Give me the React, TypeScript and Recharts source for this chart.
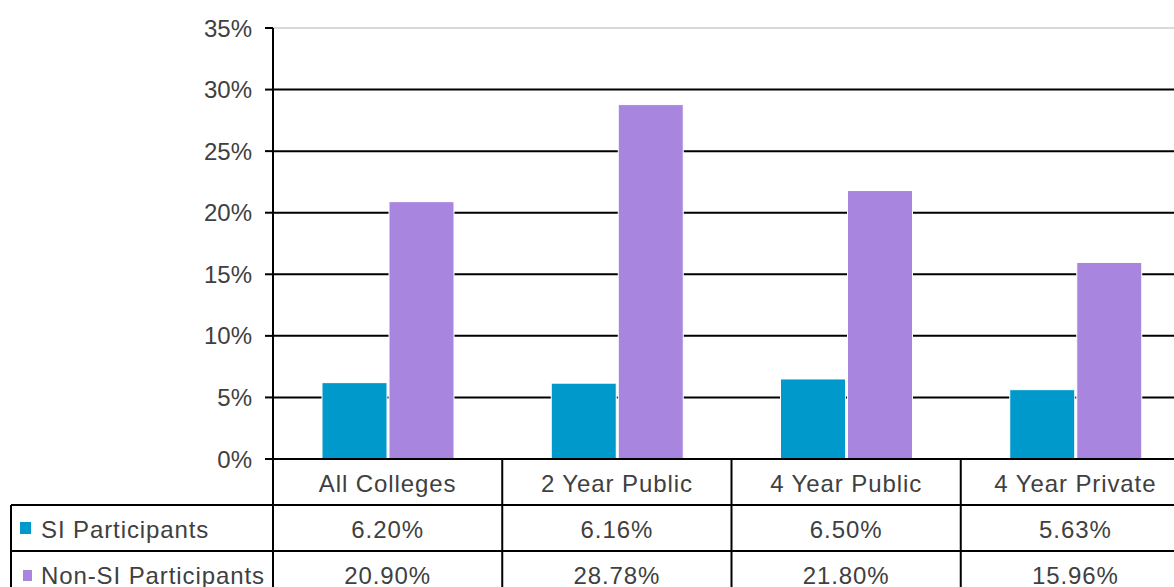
import React from 'react'
import {
  BarChart,
  Bar,
  XAxis,
  YAxis,
  CartesianGrid,
  ReferenceLine,
  Customized,
} from 'recharts'

const categories = ['All Colleges', '2 Year Public', '4 Year Public', '4 Year Private']
const siValues = [6.2, 6.16, 6.5, 5.63]
const nonSiValues = [20.9, 28.78, 21.8, 15.96]
const yTicks = [0, 5, 10, 15, 20, 25, 30, 35]
const seriesNames = ['SI Participants', 'Non-SI Participants']
const seriesColors = ['#0099cc', '#a886e0']

const data = categories.map((name, i) => ({
  name,
  si: siValues[i],
  nonSi: nonSiValues[i],
}))

const W = 1190
const H = 640
const PLOT_LEFT = 273
const PLOT_TOP = 28
const PLOT_BOTTOM = 459
const BAND = (W - PLOT_LEFT) / categories.length
const ROW1 = 505
const ROW2 = 551
const FONT = '"Liberation Sans", Arial, sans-serif'
const TEXT = '#404040'

// table text looks a touch wider than plain Arial
const cellText = {
  fill: TEXT,
  fontSize: 24,
  fontFamily: FONT,
  letterSpacing: 0.9,
}

function TableTick(props: any) {
  const { x, payload } = props
  const i = payload.index
  const right = x + BAND / 2
  return (
    <g>
      <text x={x} y={(PLOT_BOTTOM + ROW1) / 2 + 1} textAnchor="middle" dominantBaseline="central" {...cellText}>
        {payload.value}
      </text>
      <text x={x} y={(ROW1 + ROW2) / 2 + 1} textAnchor="middle" dominantBaseline="central" {...cellText}>
        {siValues[i].toFixed(2)}%
      </text>
      <text x={x} y={ROW2 + 24} textAnchor="middle" dominantBaseline="central" {...cellText}>
        {nonSiValues[i].toFixed(2)}%
      </text>
      <line x1={right} x2={right} y1={PLOT_BOTTOM} y2={H} stroke="#000" strokeWidth={2} />
    </g>
  )
}

function TableFrame() {
  return (
    <g>
      <line x1={PLOT_LEFT} x2={PLOT_LEFT} y1={PLOT_BOTTOM} y2={H} stroke="#000" strokeWidth={2} />
      <line x1={11} x2={W} y1={ROW1} y2={ROW1} stroke="#000" strokeWidth={2} />
      <line x1={11} x2={W} y1={ROW2} y2={ROW2} stroke="#000" strokeWidth={2} />
      <line x1={11} x2={11} y1={ROW1} y2={H} stroke="#000" strokeWidth={2} />
      <rect x={20} y={522} width={11} height={12} fill={seriesColors[0]} />
      <text x={41} y={529} dominantBaseline="central" {...cellText}>
        {seriesNames[0]}
      </text>
      <rect x={23} y={570} width={9} height={11} fill={seriesColors[1]} />
      <text x={41} y={575} dominantBaseline="central" {...cellText}>
        {seriesNames[1]}
      </text>
    </g>
  )
}

export default function App() {
  return (
    <div
      style={{
        position: 'absolute',
        left: 0,
        top: 0,
        width: 1174,
        height: 587,
        overflow: 'hidden',
        background: '#fff',
      }}
    >
      <BarChart
        width={W}
        height={H}
        data={data}
        margin={{ top: PLOT_TOP, right: 0, bottom: 0, left: 0 }}
        barCategoryGap={49}
        barGap={2}
      >
        <CartesianGrid vertical={false} stroke="#000" strokeWidth={2} />
        <ReferenceLine y={35} stroke="#d9d9d9" strokeWidth={2} />
        <XAxis
          dataKey="name"
          height={H - PLOT_BOTTOM}
          tickLine={false}
          axisLine={{ stroke: '#000', strokeWidth: 2 }}
          tick={<TableTick />}
          interval={0}
        />
        <YAxis
          width={PLOT_LEFT}
          domain={[0, 35]}
          ticks={yTicks}
          tickFormatter={(v: number) => `${v}%`}
          tick={{ fill: TEXT, fontSize: 24, fontFamily: FONT }}
          tickSize={8}
          tickMargin={13}
          tickLine={{ stroke: '#000', strokeWidth: 2 }}
          axisLine={{ stroke: '#000', strokeWidth: 2 }}
        />
        <Bar dataKey="si" name={seriesNames[0]} fill={seriesColors[0]} stroke="#fff" strokeWidth={1} isAnimationActive={false} />
        <Bar dataKey="nonSi" name={seriesNames[1]} fill={seriesColors[1]} stroke="#fff" strokeWidth={1} isAnimationActive={false} />
        <Customized component={<TableFrame />} />
      </BarChart>
    </div>
  )
}
